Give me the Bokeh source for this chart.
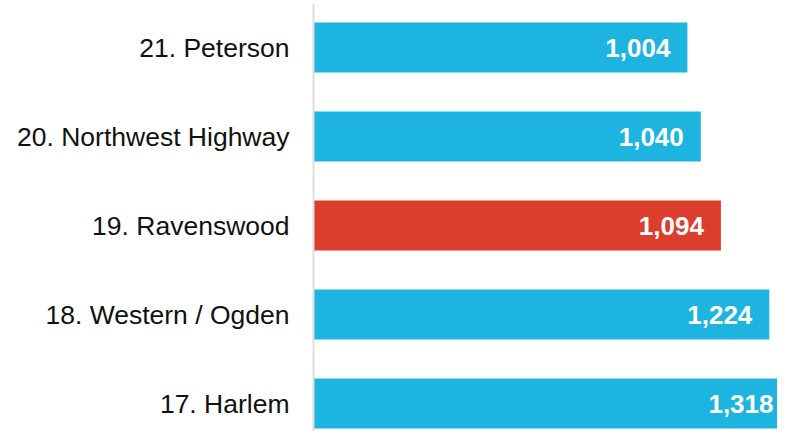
from bokeh.plotting import figure
from bokeh.models import ColumnDataSource, Range1d, FixedTicker
from bokeh.core.properties import value
from bokeh.embed import file_html
from bokeh.resources import INLINE

# Data (top to bottom)
labels = ["21. Peterson", "20. Northwest Highway", "19. Ravenswood",
          "18. Western / Ogden", "17. Harlem"]
counts = [1004, 1040, 1094, 1224, 1318]
highlight = [False, False, True, False, False]
value_text = ["1,004", "1,040", "1,094", "1,224", "1,318"]

BLUE = "#1eb4e0"
RED = "#dc3e2e"
FONT = "Liberation Sans"

W, H = 777, 431
LEFT = 313
TOP = 3
XMAX = 1246  # visible end of the value axis (longest bar runs off the edge)

idx = list(range(len(labels)))
colors = [RED if h else BLUE for h in highlight]
anchor = [min(c, XMAX) for c in counts]
offsets = [-17 if c <= XMAX else -4 for c in counts]

src = ColumnDataSource(dict(y=idx, right=counts, color=colors,
                            ax=anchor, txt=value_text, off=offsets))

p = figure(width=W, height=H, output_backend="svg", toolbar_location=None,
           x_range=Range1d(0, XMAX), y_range=Range1d(4.3146, -0.4944),
           min_border=0, min_border_left=LEFT, min_border_top=TOP)

p.hbar(y="y", left=0, right="right", height=0.5618, color="color",
       line_color=None, source=src)

p.text(x="ax", y="y", text="txt", x_offset="off", source=src,
       text_align="right", text_baseline="middle", text_color="white",
       text_font=value(FONT), text_font_style="bold", text_font_size="26px")

p.xaxis.visible = False
p.grid.visible = False
p.outline_line_color = None
p.background_fill_color = "white"
p.border_fill_color = "white"

ya = p.yaxis[0]
ya.ticker = FixedTicker(ticks=idx)
ya.major_label_overrides = {i: lab for i, lab in zip(idx, labels)}
ya.major_label_text_font = FONT
ya.major_label_text_font_size = "26.5px"
ya.major_label_text_color = "#111111"
ya.major_label_standoff = 24
ya.major_tick_line_color = None
ya.minor_tick_line_color = None
ya.major_tick_out = 0
ya.major_tick_in = 0
ya.axis_line_color = "#dddddd"
ya.axis_line_width = 2

open("out.html", "w").write(file_html(p, INLINE))
